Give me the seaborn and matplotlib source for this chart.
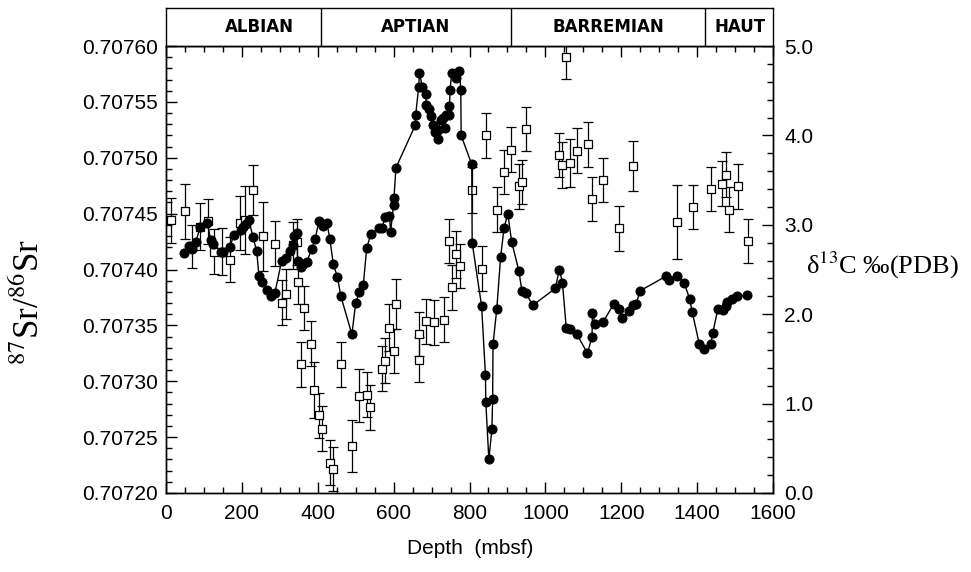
import numpy as np
import pandas as pd
import matplotlib
matplotlib.use("Agg")
import matplotlib.pyplot as plt
from matplotlib.ticker import MultipleLocator, FormatStrFormatter
import seaborn as sns

# ---- Sr isotope data (filled circles, left axis) ----
sr_depth = [48, 61, 69, 79, 90, 109, 118, 125, 145, 151, 169, 178, 197, 203, 211, 219,
            229, 239, 245, 254, 266, 276, 287, 305, 316, 327, 334, 338, 345, 347, 355, 360,
            371, 384, 393, 403, 413, 424, 432, 441, 452, 461, 490, 500, 510, 520, 529, 540,
            562, 569, 578, 589, 592, 600, 601, 606, 657, 658, 666, 668, 676, 685, 686, 694,
            698, 705, 708, 717, 718, 724, 731, 736, 738, 745, 747, 749, 753, 765, 773, 777,
            778, 806, 807, 832, 842, 843, 851, 859, 861, 862, 872, 882, 891, 901, 911, 930,
            938, 948, 967, 1026, 1037, 1045, 1055, 1064, 1083, 1111, 1123, 1124, 1132, 1152,
            1180, 1194, 1202, 1220, 1230, 1239, 1250, 1318, 1327, 1347, 1366, 1380, 1387,
            1406, 1417, 1436, 1441, 1455, 1467, 1476, 1480, 1493, 1505, 1532]
sr_value = [0.707415, 0.707421, 0.707418, 0.707425, 0.707438, 0.707442, 0.707426, 0.707423,
            0.707416, 0.707416, 0.707420, 0.707431, 0.707435, 0.707438, 0.707441, 0.707444,
            0.707429, 0.707417, 0.707394, 0.707389, 0.707382, 0.707376, 0.707379, 0.707408,
            0.707410, 0.707417, 0.707422, 0.707430, 0.707433, 0.707408, 0.707402, 0.707405,
            0.707407, 0.707418, 0.707427, 0.707443, 0.707439, 0.707442, 0.707427, 0.707405,
            0.707393, 0.707376, 0.707342, 0.707370, 0.707380, 0.707386, 0.707419, 0.707432,
            0.707437, 0.707437, 0.707447, 0.707448, 0.707434, 0.707458, 0.707464, 0.707491,
            0.707529, 0.707538, 0.707563, 0.707576, 0.707563, 0.707557, 0.707547, 0.707544,
            0.707537, 0.707529, 0.707523, 0.707517, 0.707525, 0.707534, 0.707536, 0.707527,
            0.707538, 0.707538, 0.707546, 0.707561, 0.707576, 0.707571, 0.707578, 0.707561,
            0.707520, 0.707494, 0.707424, 0.707367, 0.707306, 0.707281, 0.707230, 0.707257,
            0.707284, 0.707333, 0.707365, 0.707411, 0.707437, 0.707450, 0.707425, 0.707399,
            0.707381, 0.707379, 0.707368, 0.707383, 0.707400, 0.707388, 0.707348, 0.707347,
            0.707342, 0.707325, 0.707340, 0.707361, 0.707351, 0.707353, 0.707369, 0.707365,
            0.707357, 0.707363, 0.707368, 0.707369, 0.707381, 0.707394, 0.707391, 0.707394,
            0.707388, 0.707374, 0.707362, 0.707333, 0.707329, 0.707333, 0.707343, 0.707365,
            0.707364, 0.707367, 0.707371, 0.707374, 0.707376, 0.707377]

# ---- d13C data (open squares with error bars, right axis) ----
c_depth = [12, 50, 69, 90, 110, 127, 147, 169, 196, 207, 229, 257, 287, 306, 315, 336, 345,
           349, 355, 363, 382, 391, 402, 412, 432, 441, 461, 490, 510, 531, 538, 569, 578,
           588, 600, 607, 666, 666, 686, 706, 733, 745, 754, 765, 775, 806, 832, 844, 872,
           891, 910, 931, 939, 948, 1037, 1045, 1055, 1064, 1084, 1112, 1123, 1152, 1195,
           1232, 1347, 1388, 1437, 1466, 1475, 1485, 1507, 1533]
c_value = [3.05, 3.15, 2.76, 2.98, 3.04, 2.70, 2.70, 2.61, 3.02, 3.05, 3.39, 2.87, 2.79, 2.13,
           2.23, 2.77, 2.81, 2.36, 1.44, 2.07, 1.67, 1.15, 0.87, 0.72, 0.34, 0.27, 1.44, 0.53,
           1.09, 1.10, 0.96, 1.39, 1.48, 1.85, 1.59, 2.11, 1.78, 1.49, 1.92, 1.91, 1.94, 2.82,
           2.30, 2.67, 2.54, 3.39, 2.51, 4.00, 3.17, 3.59, 3.84, 3.43, 3.48, 4.07, 3.78, 3.67,
           4.88, 3.69, 3.83, 3.90, 3.29, 3.50, 2.96, 3.66, 3.03, 3.20, 3.40, 3.46, 3.56, 3.17,
           3.43, 2.82]
c_error = [0.25, 0.31, 0.24, 0.26, 0.25, 0.25, 0.26, 0.25, 0.30, 0.38, 0.28, 0.39, 0.25, 0.25,
           0.28, 0.26, 0.26, 0.25, 0.25, 0.25, 0.25, 0.31, 0.25, 0.25, 0.25, 0.25, 0.25, 0.29,
           0.30, 0.25, 0.25, 0.25, 0.25, 0.26, 0.25, 0.28, 0.25, 0.25, 0.25, 0.25, 0.25, 0.25,
           0.25, 0.26, 0.25, 0.26, 0.25, 0.25, 0.25, 0.25, 0.25, 0.25, 0.25, 0.25, 0.25, 0.26,
           0.25, 0.27, 0.25, 0.25, 0.25, 0.25, 0.25, 0.28, 0.41, 0.25, 0.25, 0.25, 0.25, 0.25,
           0.25, 0.25]

# ---- stage band ----
stage_bounds = [409, 910, 1422]
stage_names = ["ALBIAN", "APTIAN", "BARREMIAN", "HAUT"]
stage_label_pos = [245, 659, 1166, 1514]

sns.set_style("ticks")
plt.rcParams["font.family"] = ["Liberation Sans", "DejaVu Sans"]
plt.rcParams["mathtext.fontset"] = "stix"
plt.rcParams["text.color"] = "black"
plt.rcParams["xtick.color"] = "black"
plt.rcParams["ytick.color"] = "black"
plt.rcParams["axes.labelcolor"] = "black"

W, H = 971, 572
fig = plt.figure(figsize=(W / 100, H / 100), dpi=100)
L, R, B, T = 166 / W, 773 / W, 1 - 493 / H, 1 - 46 / H
ax = fig.add_axes([L, B, R - L, T - B])
ax2 = ax.twinx()

sr_df = pd.DataFrame({"depth": sr_depth, "sr": sr_value})
c_df = pd.DataFrame({"depth": c_depth, "c": c_value, "err": c_error})

# squares on right axis
ax2.errorbar(c_df["depth"], c_df["c"], yerr=c_df["err"], fmt="none", ecolor="black",
             elinewidth=0.9, capsize=3.5, capthick=0.9, zorder=2)
sns.scatterplot(data=c_df, x="depth", y="c", ax=ax2, marker="s", s=36,
                facecolor="white", edgecolor="black", linewidth=0.9, zorder=3, legend=False)

# circles on left axis, drawn above the right axis
sns.lineplot(data=sr_df, x="depth", y="sr", ax=ax, estimator=None, sort=False,
             color="black", linewidth=1.0, marker="o", markersize=6.5,
             markeredgecolor="black", markerfacecolor="black", zorder=4, legend=False)
ax.set_zorder(ax2.get_zorder() + 1)
ax.patch.set_visible(False)

ax.set_xlim(0, 1600)
ax.set_ylim(0.70720, 0.70760)
ax2.set_ylim(0.0, 5.0)

ax.xaxis.set_major_locator(MultipleLocator(200))
ax.xaxis.set_minor_locator(MultipleLocator(50))
ax.yaxis.set_major_locator(MultipleLocator(0.00005))
ax.yaxis.set_minor_locator(MultipleLocator(0.00001))
ax.yaxis.set_major_formatter(FormatStrFormatter("%.5f"))
ax2.yaxis.set_major_locator(MultipleLocator(1.0))
ax2.yaxis.set_minor_locator(MultipleLocator(0.2))
ax2.yaxis.set_major_formatter(FormatStrFormatter("%.1f"))

ax.tick_params(axis="x", which="both", direction="in", top=True, bottom=True,
               labelsize=15, pad=8, colors="black")
ax.tick_params(axis="y", which="both", direction="in", left=True, right=False,
               labelsize=15, pad=6, colors="black")
ax.tick_params(which="major", length=8, width=1)
ax.tick_params(which="minor", length=4, width=1)
ax2.tick_params(axis="y", which="both", direction="in", right=True, labelsize=15, pad=8,
                colors="black")
ax2.tick_params(which="major", length=8, width=1)
ax2.tick_params(which="minor", length=4, width=1)
ax.set_xlabel("")
ax.set_ylabel("")
ax2.set_ylabel("")
for a in (ax, ax2):
    for s in a.spines.values():
        s.set_linewidth(1.0)
        s.set_color("black")

# stage band
band = fig.add_axes([L, T, R - L, (1 - 8 / H) - T])
band.set_xlim(0, 1600)
band.set_ylim(0, 1)
band.set_xticks([])
band.set_yticks([])
for s in band.spines.values():
    s.set_linewidth(1.0)
    s.set_color("black")
for xb in stage_bounds:
    band.axvline(xb, color="black", linewidth=1.0)
for name, xp in zip(stage_names, stage_label_pos):
    band.text(xp, 0.5, name, ha="center", va="center", fontsize=12,
              fontweight="bold", family="DejaVu Sans", color="black")

# axis labels
fig.text(470 / W, 1 - 549 / H, "Depth  (mbsf)", ha="center", va="center", fontsize=15,
         color="black")
fig.text(30 / W, 1 - 302 / H, r"$^{87}$Sr/$^{86}$Sr", rotation=90, ha="center",
         va="center", fontsize=25, family=["Liberation Serif", "DejaVu Serif"], color="black")
fig.text(806 / W, 1 - 265 / H, "δ$^{13}$C ‰(PDB)", ha="left", va="center",
         fontsize=19, family=["Liberation Serif", "DejaVu Serif"], color="black")

fig.savefig("out.png", dpi=100)
